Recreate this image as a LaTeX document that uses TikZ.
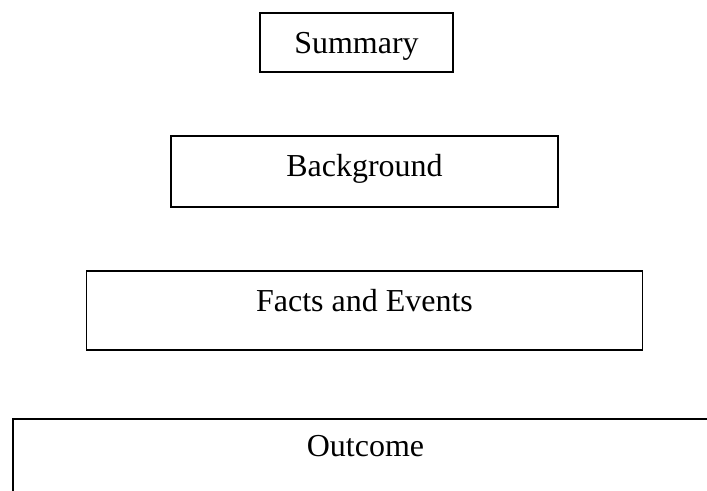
\documentclass[tikz,border=0pt]{standalone}
\usepackage{fontspec}
\setmainfont{Liberation Serif}
\usepackage{xcolor}
\usepackage{tikz}

\begin{document}
\begin{tikzpicture}[node distance=2.58cm,
  part/.style={rectangle, draw, line width=0.8pt, inner sep=0pt, font=\fontsize{18.2pt}{22pt}\selectfont}]
  \useasboundingbox (0,0) rectangle (14.14,9.82);
  \clip (0,0) rectangle (14.14,9.82);
  \node (summary) [part, minimum width=3.86cm, text height=0.82cm, text depth=0.36cm] at (7.13,8.97) {Summary};
  \node (background) [part, minimum width=7.74cm, text height=0.81cm, text depth=0.61cm, below of=summary, xshift=0.16cm] {Background};
  \node (facts) [part, minimum width=11.12cm, text height=0.81cm, text depth=0.77cm, node distance=2.78cm, below of=background] {Facts and Events};
  \node (outcome) [part, minimum width=14.1cm, text height=0.76cm, text depth=1.24cm, node distance=3.17cm, below of=facts, xshift=0.02cm] {Outcome};
\end{tikzpicture}
\end{document}
